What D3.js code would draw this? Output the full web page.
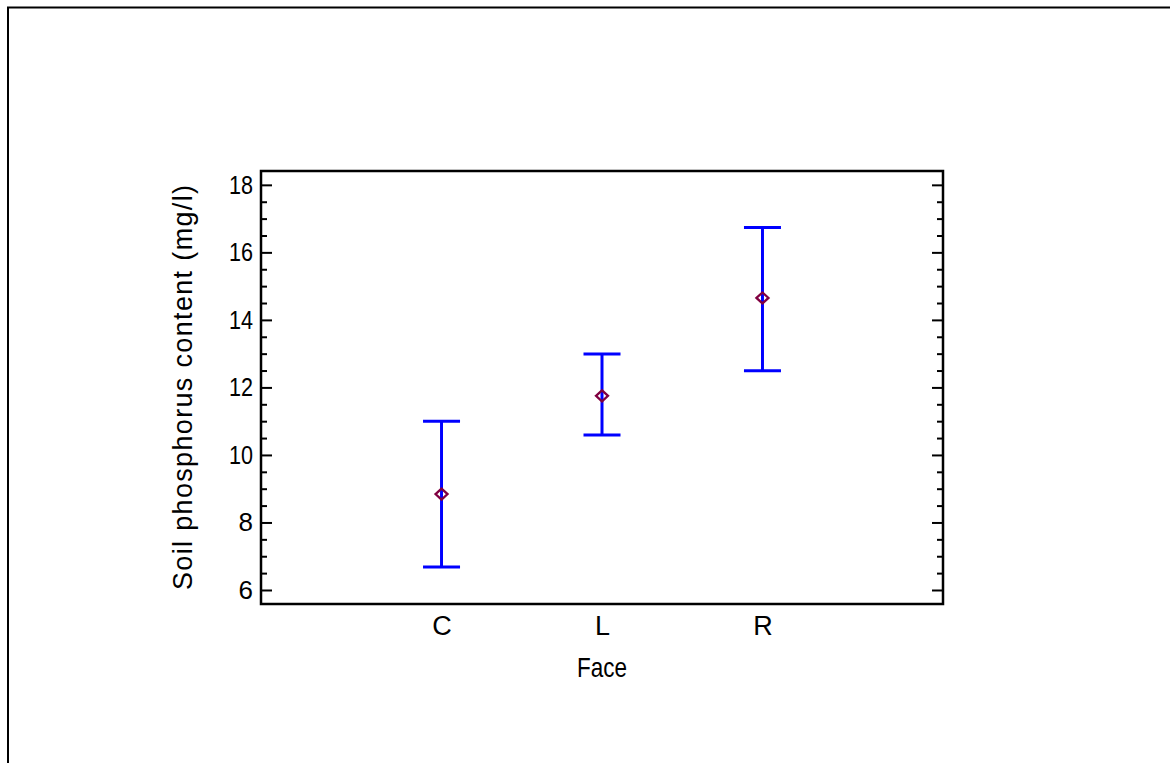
<!DOCTYPE html>
<html>
<head>
<meta charset="utf-8">
<script src="https://cdn.jsdelivr.net/npm/d3@7"></script>
<style>
  body { margin: 0; background: #fff; }
  text { font-family: "Liberation Sans", Arial, sans-serif; fill: #000; }
</style>
</head>
<body>
<div class="chart"></div>
<script>
// data
const faces = ["C", "L", "R"];
const means = [8.84, 11.75, 14.65];
const upper = [11.0, 12.99, 16.74];
const lower = [6.68, 10.59, 12.49];
const yMajor = [6, 8, 10, 12, 14, 16, 18];
const yMinor = [6.5, 7, 7.5, 8.5, 9, 9.5, 10.5, 11, 11.5, 12.5, 13, 13.5, 14.5, 15, 15.5, 16.5, 17, 17.5];

const W = 1170, H = 763;
const plot = {left: 261, right: 943, top: 171, bottom: 604};

const svg = d3.select(".chart")
    .append("svg")
    .attr("width", W)
    .attr("height", H);

// outer border (right and bottom lie outside the picture)
svg.append("rect")
    .attr("x", 8).attr("y", 7.5)
    .attr("width", 1200).attr("height", 800)
    .attr("fill", "none")
    .attr("stroke", "#000")
    .attr("stroke-width", 2);

const x = d3.scalePoint()
    .domain(faces)
    .range([plot.left, plot.right])
    .padding(1.125);

const y = d3.scaleLinear()
    .domain([5.585, 18.41])
    .range([plot.bottom, plot.top]);

// left axis: major ticks with labels, pointing inside
const left = svg.append("g")
    .attr("transform", "translate(" + plot.left + ",0)")
    .call(d3.axisLeft(y).tickValues(yMajor).tickSizeInner(-11).tickSizeOuter(0).tickPadding(8));
left.select(".domain").remove();
left.selectAll("line").attr("stroke", "#000").attr("stroke-width", 2);
left.selectAll("text")
    .style("font-size", "26px")
    .attr("textLength", 24)
    .attr("lengthAdjust", "spacingAndGlyphs")
    .attr("font-family", null);
left.selectAll("text").filter(d => d < 10).attr("textLength", null);

svg.append("g")
    .attr("transform", "translate(" + plot.left + ",0)")
    .call(d3.axisLeft(y).tickValues(yMinor).tickSizeInner(-6).tickSizeOuter(0).tickFormat(""))
    .call(g => g.select(".domain").remove())
    .selectAll("line").attr("stroke", "#000").attr("stroke-width", 2);

// right axis, ticks only
svg.append("g")
    .attr("transform", "translate(" + plot.right + ",0)")
    .call(d3.axisRight(y).tickValues(yMajor).tickSizeInner(-11).tickSizeOuter(0).tickFormat(""))
    .call(g => g.select(".domain").remove())
    .selectAll("line").attr("stroke", "#000").attr("stroke-width", 2);

svg.append("g")
    .attr("transform", "translate(" + plot.right + ",0)")
    .call(d3.axisRight(y).tickValues(yMinor).tickSizeInner(-6).tickSizeOuter(0).tickFormat(""))
    .call(g => g.select(".domain").remove())
    .selectAll("line").attr("stroke", "#000").attr("stroke-width", 2);

// x axis labels only (no ticks)
const bottom = svg.append("g")
    .attr("transform", "translate(0," + plot.bottom + ")")
    .call(d3.axisBottom(x).tickSize(0).tickPadding(12));
bottom.select(".domain").remove();
bottom.selectAll("text")
    .style("font-size", "27px")
    .attr("font-family", null);

// frame
svg.append("rect")
    .attr("x", plot.left).attr("y", plot.top)
    .attr("width", plot.right - plot.left)
    .attr("height", plot.bottom - plot.top)
    .attr("fill", "none")
    .attr("stroke", "#000")
    .attr("stroke-width", 2.5);

// error bars
const bars = svg.append("g");
faces.forEach(function(f, i) {
    const cx = x(f);
    bars.append("line")
        .attr("x1", cx).attr("x2", cx)
        .attr("y1", y(lower[i])).attr("y2", y(upper[i]))
        .attr("stroke", "#0000ff").attr("stroke-width", 3);
    [lower[i], upper[i]].forEach(function(v) {
        bars.append("line")
            .attr("x1", cx - 18.5).attr("x2", cx + 18.5)
            .attr("y1", y(v)).attr("y2", y(v))
            .attr("stroke", "#0000ff").attr("stroke-width", 3);
    });
});

// mean markers
svg.append("g")
    .selectAll("path")
    .data(faces)
    .enter()
    .append("path")
    .attr("d", function(f, i) {
        const cx = x(f), cy = y(means[i]);
        return "M" + (cx - 6) + "," + cy + "L" + cx + "," + (cy - 5.5) +
               "L" + (cx + 6) + "," + cy + "L" + cx + "," + (cy + 5.5) + "Z";
    })
    .attr("fill", "none")
    .attr("stroke", "#800040")
    .attr("stroke-width", 2.3);

// axis titles
svg.append("text")
    .attr("x", (plot.left + plot.right) / 2)
    .attr("y", 677)
    .attr("text-anchor", "middle")
    .attr("textLength", 50)
    .attr("lengthAdjust", "spacingAndGlyphs")
    .style("font-size", "28px")
    .text("Face");

svg.append("text")
    .attr("transform", "translate(192," + ((185 + 590) / 2) + ") rotate(-90)")
    .attr("text-anchor", "middle")
    .attr("textLength", 405)
    .attr("lengthAdjust", "spacing")
    .style("font-size", "27px")
    .text("Soil phosphorus content (mg/l)");
</script>
</body>
</html>
